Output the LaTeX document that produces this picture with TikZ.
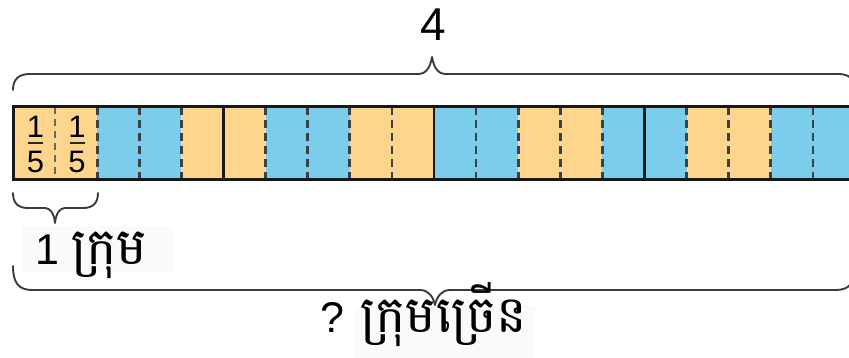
\documentclass[tikz,border=0pt]{standalone}
\usepackage{fontspec}
\setmainfont{Liberation Sans}
\newfontfamily\khmer[Script=Khmer]{Battambang}
\newcommand{\kh}[1]{{\fontsize{51}{56}\selectfont\khmer #1}}
\definecolor{cor}{HTML}{FDD58C}
\definecolor{cbl}{HTML}{7CCCEC}
\definecolor{dashc}{HTML}{34444A}
\definecolor{bracec}{HTML}{3C3C3C}
\begin{document}
\begin{tikzpicture}[x=1pt,y=-1pt,
  dashdiv/.style={draw=dashc,line width=2.7pt,dash pattern=on 8pt off 5pt},
  soliddiv/.style={draw=black!90,line width=2.6pt},
  bracepath/.style={draw=bracec,line width=1.9pt,line cap=round,line join=round},
  bigtxt/.style={font=\fontsize{43}{46}\selectfont,inner sep=0pt},
  fractxt/.style={font=\fontsize{31}{33}\selectfont,inner sep=0pt,anchor=base},
  faintbox/.style={fill=black!2,draw=none}]
\useasboundingbox (0,0) rectangle (849,358);
\clip (0,0) rectangle (849,358);
% cells
\foreach \i/\c in {0/cor,1/cor,2/cbl,3/cbl,4/cor,5/cor,6/cbl,7/cbl,8/cor,9/cor,10/cbl,11/cbl,12/cor,13/cor,14/cbl,15/cbl,16/cor,17/cor,18/cbl,19/cbl}
  \fill[\c] ({13+42.1*\i},107) rectangle ({13+42.1*(\i+1)},180);
\draw[dashdiv,draw=dashc!80,line width=1.6pt,dash pattern=on 7pt off 5pt] ({13+42.1},107) -- ({13+42.1},180);
\foreach \i in {2,3,4,6,7,8,9,11,12,13,14,16,17,18,19}
  \draw[dashdiv] ({13+42.1*\i},107) -- ({13+42.1*\i},180);
\foreach \i in {5,10,15}
  \draw[soliddiv] ({13+42.1*\i},107) -- ({13+42.1*\i},180);
\draw[line width=3pt,draw=black!90] (13,107) rectangle (855,180);
% fractions
\foreach \k/\xc in {a/35.5,b/77}{
  \node[fractxt] (num\k) at (\xc,137.5) {1};
  \node[fractxt] (den\k) at (\xc,173) {5};
  \draw[line width=2pt,draw=black!85] ([xshift=-7.5pt]num\k.south |- 0,143) -- ([xshift=7.5pt]num\k.south |- 0,143);
}
% top brace
\draw[bracepath] (13,90) .. controls (13,79) and (19,74) .. (30,74) -- (418,74)
  .. controls (426,74) and (430,68) .. (432,57)
  .. controls (434,68) and (438,74) .. (446,74) -- (838,74)
  .. controls (849,74) and (855,79) .. (855,90);
\node[bigtxt,font=\fontsize{46}{48}\selectfont,anchor=base] (four) at (433,41) {4};
% small brace
\draw[bracepath] (13,193) .. controls (13,203) and (18,208) .. (28,208) -- (45,208)
  .. controls (50,208) and (54,213) .. (55,223)
  .. controls (56,213) and (60,208) .. (65,208) -- (83,208)
  .. controls (93,208) and (98,203) .. (98,193);
\fill[faintbox] (22,226) rectangle (173,272);
\node[bigtxt,anchor=base west] (grp1) at (35,265) {1 \kh{ក្រុម}};
% bottom brace
\draw[bracepath] (13,266) .. controls (13,282) and (18,290) .. (32,290) -- (420,290)
  .. controls (428,290) and (433,296) .. (435,305)
  .. controls (437,296) and (442,290) .. (450,290) -- (836,290)
  .. controls (850,290) and (855,282) .. (855,266);
\fill[faintbox] (355,306) rectangle (535,358);
\node[bigtxt,anchor=base west] (grpq) at (320,332) {? \kh{ក្រុមច្រើន}};
\end{tikzpicture}
\end{document}
